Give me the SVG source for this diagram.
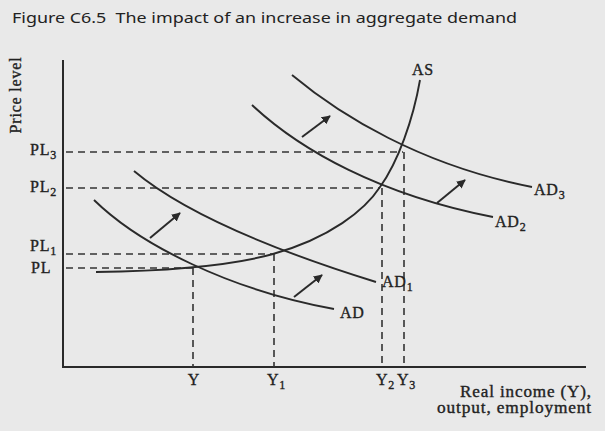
<svg xmlns="http://www.w3.org/2000/svg" width="605" height="431" viewBox="0 0 605 431">
<defs>
<marker id="ah" viewBox="0 0 10 10" refX="9" refY="5" markerWidth="4.5" markerHeight="4.5" orient="auto" markerUnits="strokeWidth">
<path d="M0,0 L10,5 L0,10 Z" fill="#2a2a2a"/>
</marker>
<style>
.ax{stroke:#2a2a2a;stroke-width:2;fill:none}
.cv{stroke:#2a2a2a;stroke-width:1.9;fill:none}
.dash{stroke:#333;stroke-width:1.6;fill:none;stroke-dasharray:7 5}
.arr{stroke:#2a2a2a;stroke-width:2;fill:none;marker-end:url(#ah)}
.lb{font-family:"Liberation Serif","DejaVu Serif",serif;font-size:16px;fill:#222;stroke:#222;stroke-width:0.35;letter-spacing:0.8px}
.sb{font-size:12px}
.tt{font-family:"Noto Sans","Liberation Sans",sans-serif;font-size:15px;fill:#222;white-space:pre}
</style>
</defs>
<rect width="605" height="431" fill="#e9e9e9"/>
<g id="title"><text class="tt" x="12" y="23" xml:space="preserve" textLength="505" lengthAdjust="spacingAndGlyphs">Figure C6.5  The impact of an increase in aggregate demand</text></g>
<g id="axes">
<path class="ax" d="M63,60 L63,367 L586,367"/>
<text class="lb" transform="translate(21,95) rotate(-90)" text-anchor="middle" font-size="15" letter-spacing="0">Price level</text>
<text class="lb" x="460" y="397" textLength="132" lengthAdjust="spacingAndGlyphs" letter-spacing="0">Real income (Y),</text>
<text class="lb" x="437" y="413" textLength="155" lengthAdjust="spacingAndGlyphs" letter-spacing="0">output, employment</text>
</g>
<g id="guides">
<path class="dash" d="M66,152 L403,152 M66,188 L380,188 M66,254 L273,254 M66,268 L193,268"/>
<path class="dash" d="M193,268 L193,367 M274,254 L274,367 M382,188 L382,367 M404,152 L404,367"/>
</g>
<g id="ylabels">
<text class="lb" x="30" y="155">PL<tspan class="sb" dy="4">3</tspan></text>
<text class="lb" x="30" y="192">PL<tspan class="sb" dy="4">2</tspan></text>
<text class="lb" x="30" y="251">PL<tspan class="sb" dy="4">1</tspan></text>
<text class="lb" x="31" y="273">PL</text>
</g>
<g id="xlabels">
<text class="lb" x="194" y="385" text-anchor="middle">Y</text>
<text class="lb" x="267" y="385">Y<tspan class="sb" dy="4">1</tspan></text>
<text class="lb" x="376" y="385">Y<tspan class="sb" dy="4">2</tspan></text>
<text class="lb" x="397" y="385">Y<tspan class="sb" dy="4">3</tspan></text>
</g>
<g id="AS">
<path class="cv" d="M96,272 C160,271 230,266 273,254 C330,238 365,210 380,187 C398,162 413,120 420,80"/>
<text class="lb" x="412" y="75">AS</text>
</g>
<g id="AD">
<path class="cv" d="M94,200 C140,245 230,290 334,309"/>
<text class="lb" x="340" y="318">AD</text>
</g>
<g id="AD1">
<path class="cv" d="M134,171 C178,208 260,246 376,282"/>
<text class="lb" x="382" y="287">AD<tspan class="sb" dy="4">1</tspan></text>
</g>
<g id="AD2">
<path class="cv" d="M252,105 C300,150 380,195 493,217"/>
<text class="lb" x="495" y="227">AD<tspan class="sb" dy="4">2</tspan></text>
</g>
<g id="AD3">
<path class="cv" d="M292,75 C340,115 420,165 532,187"/>
<text class="lb" x="534" y="195">AD<tspan class="sb" dy="4">3</tspan></text>
</g>
<g id="connectors">
<path class="arr" d="M150,238 L180,213"/>
<path class="arr" d="M294,297 L322,275"/>
<path class="arr" d="M302,137 L330,116"/>
<path class="arr" d="M437,203 L465,180"/>
</g>
</svg>
